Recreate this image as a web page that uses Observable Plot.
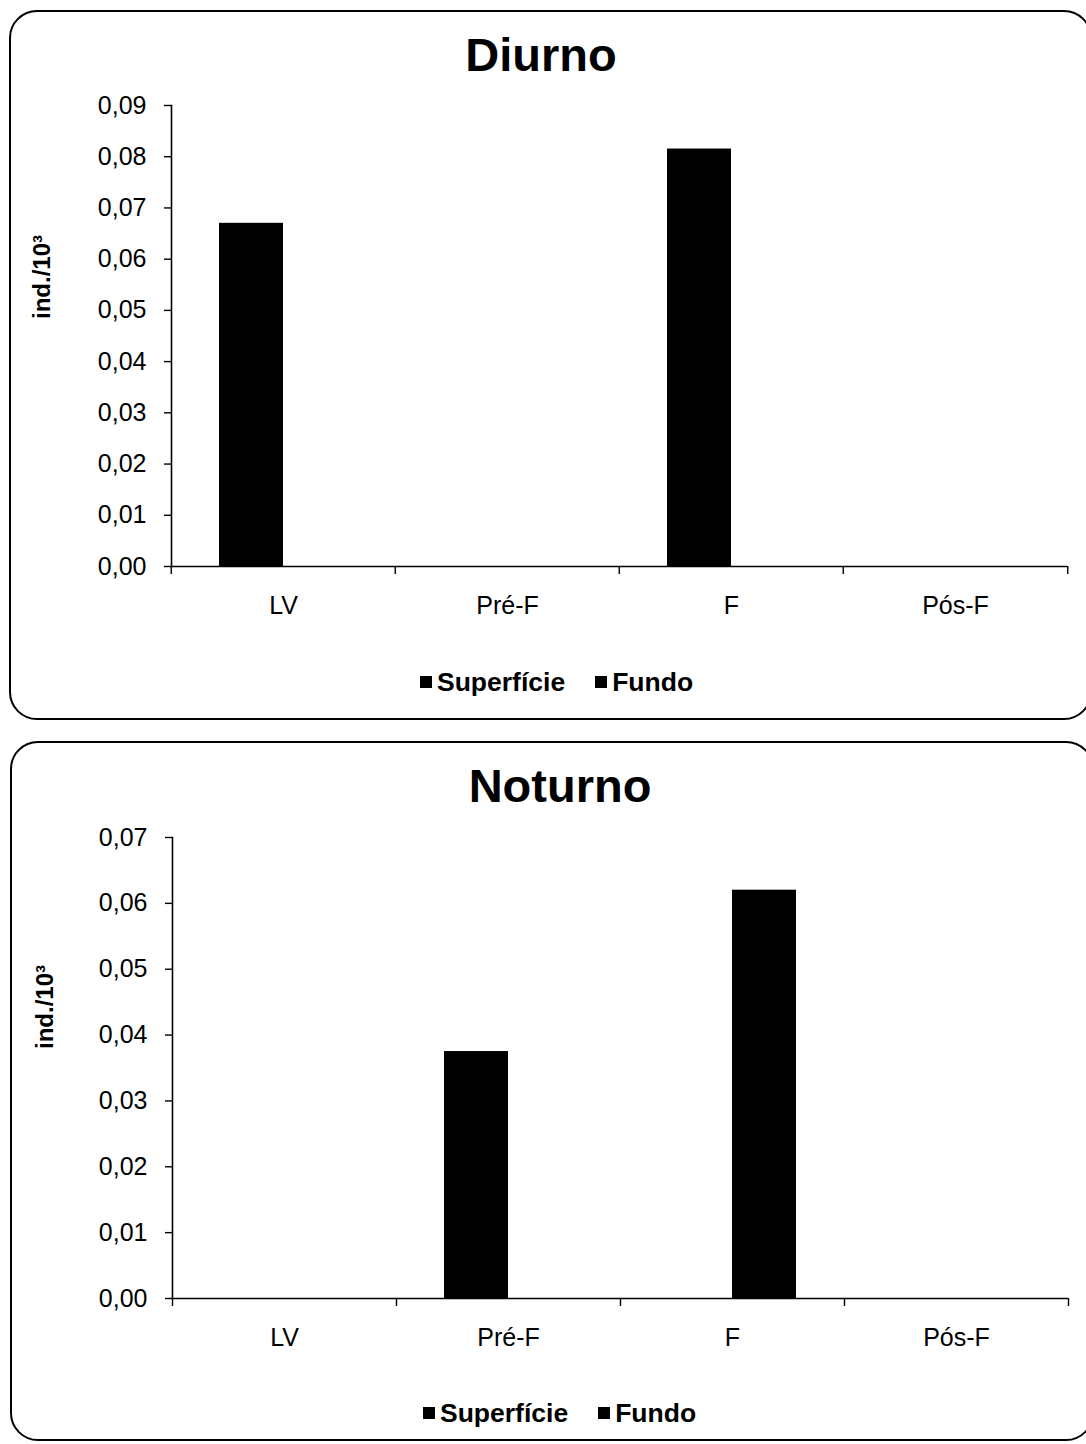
<!DOCTYPE html>
<html>
<head>
<meta charset="utf-8">
<script src="https://cdn.jsdelivr.net/npm/d3@7"></script>
<script src="https://cdn.jsdelivr.net/npm/@observablehq/plot@0.6"></script>
<style>
  html, body { margin: 0; padding: 0; background: #fff; }
  body { width: 1086px; height: 1444px; overflow: hidden; position: relative;
         font-family: "Liberation Sans", Arial, sans-serif; color: #000; }
  .panel { position: absolute; border: 2px solid #000; border-radius: 28px; box-sizing: border-box; }
  .title { position: absolute; font-weight: bold; font-size: 47px; line-height: 1;
           transform: translateX(-50%); white-space: nowrap; }
  .ylab { position: absolute; font-weight: bold; font-size: 24px; line-height: 1; white-space: nowrap;
          transform: translate(-50%, -50%) rotate(-90deg); }
  .legend { position: absolute; display: flex; align-items: center; font-weight: bold;
            font-size: 26.5px; line-height: 1; white-space: nowrap; }
  .legend .item { display: flex; align-items: center; margin-right: 30px; }
  .legend .sw { display: inline-block; width: 12px; height: 12px; margin-right: 5px; }
  .chart { position: absolute; left: 0; }
</style>
</head>
<body>
<script>
// ---- data ----
const categories = ["LV", "Pré-F", "F", "Pós-F"];
const series = ["Superfície", "Fundo"];
const seriesColors = ["#000000", "#000000"];

const diurnoSuperficie = [0.067, 0, 0.0815, 0];
const diurnoFundo = [0, 0, 0, 0];
const noturnoSuperficie = [0, 0.0375, 0, 0];
const noturnoFundo = [0, 0, 0.062, 0];

const diurnoTicks = [0, 0.01, 0.02, 0.03, 0.04, 0.05, 0.06, 0.07, 0.08, 0.09];
const noturnoTicks = [0, 0.01, 0.02, 0.03, 0.04, 0.05, 0.06, 0.07];

const yLabel = "ind./10³";

// ---- helpers ----
function add(tag, cls, css, text) {
  const el = document.createElement(tag);
  if (cls) el.className = cls;
  Object.assign(el.style, css || {});
  if (text != null) el.textContent = text;
  document.body.appendChild(el);
  return el;
}

function legend(left, top) {
  const lg = add("div", "legend", {left: left + "px", top: top + "px"});
  series.forEach((s, i) => {
    const it = document.createElement("div");
    it.className = "item";
    const sw = document.createElement("span");
    sw.className = "sw";
    sw.style.background = seriesColors[i];
    it.appendChild(sw);
    it.appendChild(document.createTextNode(s));
    lg.appendChild(it);
  });
}

function chart({sup, fun, ticks, top, height, marginTop, marginBottom, marginLeft}) {
  const data = categories.flatMap((c, i) => [
    {cat: c, serie: series[0], v: sup[i]},
    {cat: c, serie: series[1], v: fun[i]}
  ]);
  const width = 1086, marginRight = 18;
  const band = (width - marginLeft - marginRight) / categories.length;
  const fmt = d => d.toFixed(2).replace(".", ",");
  const svg = Plot.plot({
    width, height, marginTop, marginBottom, marginLeft, marginRight,
    style: {fontFamily: '"Liberation Sans", Arial, sans-serif', fontSize: "25px", color: "#000", background: "transparent", overflow: "visible"},
    fx: {domain: categories, padding: 0, label: null},
    x: {domain: series, paddingInner: 0, paddingOuter: 0.75, axis: null},
    y: {domain: [0, d3.max(ticks)], axis: null},
    color: {domain: series, range: seriesColors},
    marks: [
      Plot.barY(data, {fx: "cat", x: "serie", y: "v", fill: "serie"}),
      Plot.frame({anchor: "left", facetAnchor: "left", strokeWidth: 1.6}),
      Plot.ruleY([0], {strokeWidth: 1.6}),
      Plot.axisY({ticks, tickFormat: fmt, tickSize: 7, tickPadding: 18, label: null, strokeWidth: 1.4, facetAnchor: "left"}),
      Plot.axisFx({anchor: "bottom", tickSize: 0, tickPadding: 30, label: null}),
      Plot.axisFx({anchor: "bottom", tickSize: 8, tickFormat: () => "", dx: -band / 2, strokeWidth: 1.4, label: null}),
      Plot.axisFx({anchor: "bottom", ticks: [categories[categories.length - 1]], tickSize: 8, tickFormat: () => "", dx: band / 2, strokeWidth: 1.4, label: null})
    ]
  });
  svg.classList.add("chart");
  svg.style.top = top + "px";
  document.body.appendChild(svg);
}

// ---- panel 1: Diurno ----
add("div", "panel", {left: "9px", top: "10px", width: "1083px", height: "710px"});
add("div", "title", {left: "541px", top: "31px"}, "Diurno");
add("div", "ylab", {left: "42px", top: "277px"}, yLabel);
chart({sup: diurnoSuperficie, fun: diurnoFundo, ticks: diurnoTicks,
       top: 80, height: 560, marginTop: 25, marginBottom: 74, marginLeft: 170});
legend(420, 669);

// ---- panel 2: Noturno ----
add("div", "panel", {left: "10px", top: "741px", width: "1084px", height: "700px"});
add("div", "title", {left: "560px", top: "762px"}, "Noturno");
add("div", "ylab", {left: "45px", top: "1007px"}, yLabel);
chart({sup: noturnoSuperficie, fun: noturnoFundo, ticks: noturnoTicks,
       top: 810, height: 560, marginTop: 27, marginBottom: 72, marginLeft: 172});
legend(423, 1400);
</script>
</body>
</html>
